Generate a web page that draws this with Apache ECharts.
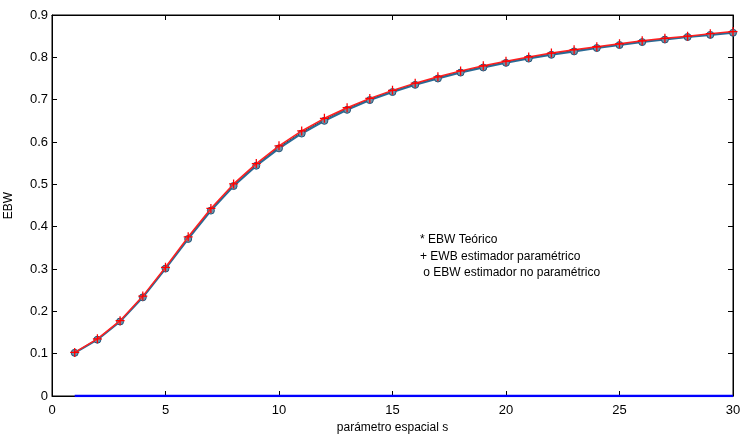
<!DOCTYPE html>
<html><head><meta charset="utf-8">
<script src="https://cdn.jsdelivr.net/npm/echarts@6/dist/echarts.min.js"></script>
<style>html,body{margin:0;padding:0;background:#fff}#c{width:740px;height:436px}</style>
</head><body><div id="c"></div>
<script>
const sValues = [1,2,3,4,5,6,7,8,9,10,11,12,13,14,15,16,17,18,19,20,21,22,23,24,25,26,27,28,29,30];
const ebwTeorico = [0.102,0.134,0.177,0.234,0.302,0.373,0.440,0.498,0.546,0.588,0.623,0.653,0.679,0.701,0.720,0.737,0.752,0.766,0.778,0.789,0.799,0.808,0.816,0.823,0.830,0.837,0.843,0.848,0.854,0.859];
const ewbParametrico = [0.103,0.135,0.178,0.236,0.304,0.376,0.443,0.501,0.549,0.591,0.626,0.656,0.681,0.703,0.722,0.739,0.754,0.768,0.780,0.791,0.801,0.810,0.818,0.825,0.832,0.839,0.845,0.850,0.856,0.861];
const ebwNoParametrico = [0.102,0.133,0.176,0.233,0.301,0.371,0.438,0.496,0.544,0.585,0.620,0.650,0.676,0.699,0.718,0.735,0.750,0.764,0.776,0.787,0.797,0.806,0.814,0.822,0.829,0.836,0.842,0.848,0.853,0.858];
const zeroLine = sValues.map(() => 0);
const xTicks = [0,5,10,15,20,25,30];
const yTicks = [0,0.1,0.2,0.3,0.4,0.5,0.6,0.7,0.8,0.9];
const legendLines = ['* EBW Teórico', '+ EWB estimador paramétrico', ' o EBW estimador no paramétrico'];

const pair = arr => sValues.map((s, i) => [s, arr[i]]);
const plusPath = 'path://M4.3,0L5.7,0L5.7,4.3L10,4.3L10,5.7L5.7,5.7L5.7,10L4.3,10L4.3,5.7L0,5.7L0,4.3L4.3,4.3Z';
const font = 'Liberation Sans, Arial, sans-serif';
const axisCommon = () => ({
  axisLine: {show: true, onZero: false, lineStyle: {color: '#000', width: 1}},
  axisTick: {show: true, inside: true, length: 5, lineStyle: {color: '#000'}},
  splitLine: {show: false}
});
const chart = echarts.init(document.getElementById('c'));
chart.setOption({
  animation: false,
  backgroundColor: '#fff',
  grid: {left: 52, right: 7, top: 15, bottom: 40, containLabel: false, outerBoundsMode: 'none',
    show: true, borderColor: '#000', borderWidth: 1, backgroundColor: 'transparent'},
  xAxis: [
    Object.assign({type: 'value', min: 0, max: 30, interval: 5, position: 'bottom',
      name: 'parámetro espacial s', nameLocation: 'middle', nameGap: 24,
      nameTextStyle: {color: '#000', fontSize: 12, fontFamily: font},
      axisLabel: {color: '#000', fontSize: 13, fontFamily: font, margin: 8}}, axisCommon()),
    Object.assign({type: 'value', min: 0, max: 30, interval: 5, position: 'top',
      axisLabel: {show: false}}, axisCommon())
  ],
  yAxis: [
    Object.assign({type: 'value', min: 0, max: 0.9, interval: 0.1, position: 'left',
      name: 'EBW', nameLocation: 'middle', nameGap: 37, nameRotate: 90,
      nameTextStyle: {color: '#000', fontSize: 12, fontFamily: font},
      axisLabel: {color: '#000', fontSize: 13, fontFamily: font, margin: 4,
        formatter: v => (Math.round(v * 10) / 10).toString()}}, axisCommon()),
    Object.assign({type: 'value', min: 0, max: 0.9, interval: 0.1, position: 'right',
      axisLabel: {show: false}}, axisCommon())
  ],
  series: [
    {type: 'line', name: 'zero', data: pair(zeroLine), symbol: 'none', xAxisIndex: 1, yAxisIndex: 1,
      lineStyle: {color: '#0000ff', width: 2.5}, z: 5},
    {type: 'line', name: 'EBW Teórico', data: pair(ebwTeorico), symbol: 'circle', symbolSize: 3,
      itemStyle: {color: '#333'}, lineStyle: {color: '#333', width: 1}, z: 2},
    {type: 'line', name: 'EBW no paramétrico', data: pair(ebwNoParametrico), symbol: 'circle', symbolSize: 7,
      itemStyle: {color: '#6a93aa', borderColor: '#24577a', borderWidth: 1},
      lineStyle: {color: '#2a6a95', width: 2}, z: 3},
    {type: 'line', name: 'EWB paramétrico', data: pair(ewbParametrico), symbol: plusPath, symbolSize: 9,
      itemStyle: {color: '#ff0000'}, lineStyle: {color: '#ff2020', width: 1.5}, z: 4}
  ],
  graphic: legendLines.map((t, i) => ({
    type: 'text', left: 420, top: 234 + i * 16.5,
    style: {text: t, fill: '#000', font: '12px ' + font}
  }))
});
</script></body></html>
